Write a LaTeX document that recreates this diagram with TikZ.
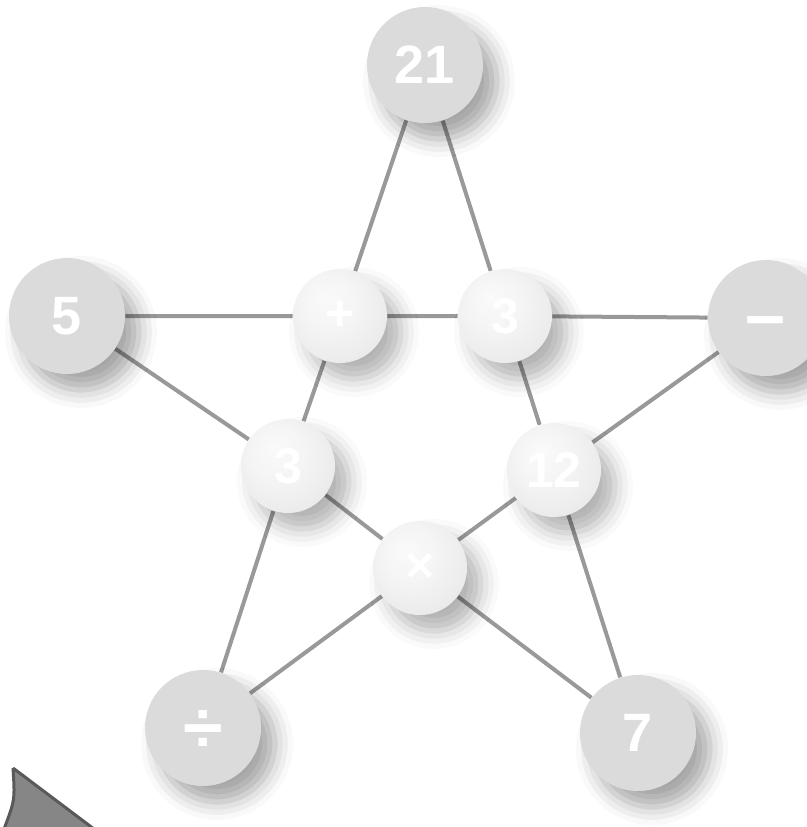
\documentclass[tikz,border=0pt]{standalone}
\usepackage{fontspec}
\setmainfont{Liberation Sans}
\usepackage{tikz}
\usetikzlibrary{shapes,positioning,calc,backgrounds,shadows.blur}

\pgfdeclareradialshading{pearl}{\pgfpoint{-8bp}{10bp}}{color(0bp)=(gray!4); color(14bp)=(gray!8); color(28bp)=(gray!15); color(40bp)=(gray!24); color(50bp)=(gray!38)}

\begin{document}
\begin{tikzpicture}[x=0.5pt,y=-0.5pt,
    bigball/.style={circle, minimum size=58pt, inner sep=0pt, fill=gray!28, text=white,
        font=\fontsize{27}{30}\selectfont\bfseries,
        blur shadow={shadow xshift=7pt, shadow yshift=-8pt, shadow blur radius=9pt, shadow opacity=35}},
    pearlball/.style={circle, minimum size=47pt, inner sep=0pt, shading=pearl, text=white,
        font=\fontsize{25}{28}\selectfont\bfseries,
        blur shadow={shadow xshift=7pt, shadow yshift=-8pt, shadow blur radius=9pt, shadow opacity=30}},
    link/.style={draw=gray!80, line width=2pt}]
                \useasboundingbox (0,0) rectangle (807,827);
                % outer numbers and signs
                \node[bigball] (n21) at (425,65) {21};
                \node[bigball] (n5) at (67,316) {5};
                \node[bigball] (minus) at (766,318) {\fontsize{36}{36}\selectfont\raisebox{-10.5pt}[0pt][0pt]{--}};
                \node[bigball] (div) at (203,728) {\fontsize{36}{36}\selectfont\raisebox{-12pt}[0pt][0pt]{÷}};
                \node[bigball] (n7) at (638,733) {7};
                % inner spheres
                \node[pearlball] (plus) at (340,316) {+};
                \node[pearlball] (rthree) at (505,316) {3};
                \node[pearlball] (lthree) at (288,466) {3};
                \node[pearlball] (n12) at (554,470) {12};
                \node[pearlball] (times) at (420,568) {×};
                % star lines
                \begin{scope}[on background layer]
                    \draw[link] (n21) -- (plus) -- (lthree) -- (div);
                    \draw[link] (n21) -- (rthree) -- (n12) -- (n7);
                    \draw[link] (n5) -- (plus) -- (rthree) -- (minus);
                    \draw[link] (n5) -- (lthree) -- (times) -- (n7);
                    \draw[link] (div) -- (times) -- (n12) -- (minus);
                \end{scope}
                % corner piece
                \draw[draw=gray!70!black, line width=1.5pt, fill=gray!95, line join=round]
                    (13,768) -- (94,829) -- (4,829) .. controls (15,800) .. (13,768);
            \end{tikzpicture}
\end{document}
